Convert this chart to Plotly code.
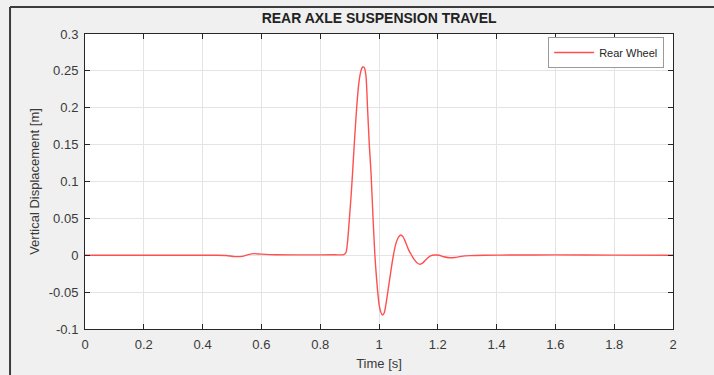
import plotly.graph_objects as go

# Rear wheel vertical displacement over time
time_s = [0.0, 0.30, 0.45, 0.48, 0.51, 0.535, 0.555, 0.575, 0.60, 0.65, 0.75, 0.85,
          0.880, 0.888, 0.893, 0.899, 0.905, 0.910, 0.917, 0.924, 0.931, 0.938, 0.943,
          0.947, 0.951, 0.956, 0.961, 0.967, 0.973, 0.980, 0.986, 0.991, 0.995, 1.000,
          1.006, 1.012, 1.018, 1.023, 1.028, 1.035, 1.042, 1.049, 1.055, 1.060, 1.067,
          1.074, 1.082, 1.090, 1.100, 1.111, 1.120, 1.130, 1.139, 1.150, 1.162, 1.175,
          1.190, 1.205, 1.220, 1.240, 1.258, 1.280, 1.310, 1.36, 1.45, 1.60, 1.80, 2.0]
disp_m = [0.0, 0.0, 0.0, -0.0003, -0.0018, -0.0015, 0.0008, 0.0022, 0.0015, 0.0006, 0.0005, 0.0006,
          0.0008, 0.004, 0.018, 0.048, 0.080, 0.111, 0.158, 0.200, 0.232, 0.249, 0.2545,
          0.2555, 0.2535, 0.242, 0.200, 0.150, 0.111, 0.048, 0.000, -0.028, -0.047, -0.066,
          -0.077, -0.081, -0.078, -0.068, -0.055, -0.036, -0.017, 0.000, 0.012, 0.019, 0.025,
          0.0275, 0.025, 0.018, 0.008, 0.000, -0.006, -0.0105, -0.0123, -0.010, -0.005, -0.001,
          0.0003, 0.0, -0.002, -0.0033, -0.0030, -0.0015, -0.0005, 0.0, 0.0003, 0.0005, 0.0002, 0.0]

x_ticks = [0, 0.2, 0.4, 0.6, 0.8, 1, 1.2, 1.4, 1.6, 1.8, 2]
y_ticks = [-0.1, -0.05, 0, 0.05, 0.1, 0.15, 0.2, 0.25, 0.3]

FONT = "Liberation Sans, Arial, Helvetica, sans-serif"
AX = "#262626"
TXT = "#3a3a3a"

fig = go.Figure()
fig.add_trace(go.Scatter(
    x=time_s, y=disp_m, mode="lines", name="Rear Wheel",
    line=dict(color="#ff5050", width=1.4, shape="spline", smoothing=0.6),
))

axis_common = dict(
    showline=True, linecolor=AX, linewidth=1, mirror="ticks",
    ticks="inside", ticklen=5, tickcolor=AX, tickwidth=1,
    showgrid=True, gridcolor="#e4e4e4", gridwidth=1, zeroline=False,
    automargin=False,
    tickfont=dict(family=FONT, size=13, color=TXT),
)

fig.update_xaxes(
    range=[0, 2], tickvals=x_ticks, ticktext=[f"{v:g}" for v in x_ticks],
    ticklabelstandoff=3,
    title=dict(text="Time [s]", font=dict(family=FONT, size=13, color=TXT), standoff=8),
    **axis_common,
)
fig.update_yaxes(
    range=[-0.1, 0.3], tickvals=y_ticks, ticktext=[f"{v:g}" for v in y_ticks],
    ticklabelstandoff=3,
    title=dict(text="Vertical Displacement [m]", font=dict(family=FONT, size=13, color=TXT), standoff=6),
    **axis_common,
)

fig.update_layout(
    width=714, height=375,
    margin=dict(l=85, r=41, t=34, b=46, autoexpand=False),
    paper_bgcolor="#f0f0f0", plot_bgcolor="#ffffff",
    title=dict(text="<b>REAR AXLE SUSPENSION TRAVEL</b>", x=0.531, xanchor="center",
               y=0.952, yanchor="middle",
               font=dict(family=FONT, size=14, color="#222222")),
    showlegend=True,
    legend=dict(x=0.985, y=0.99, xanchor="right", yanchor="top",
                bgcolor="#ffffff", bordercolor="#9a9a9a", borderwidth=1,
                font=dict(family=FONT, size=11, color="#262626"),
                tracegroupgap=0, itemwidth=40),
    shapes=[
        # outer window frame, left and top edges
        dict(type="line", xref="paper", yref="paper", x0=-0.1275, x1=-0.1275, y0=-0.2, y1=1.0915,
             line=dict(color="#3c3c3c", width=2)),
        dict(type="line", xref="paper", yref="paper", x0=-0.1275, x1=1.08, y0=1.0915, y1=1.0915,
             line=dict(color="#3c3c3c", width=2)),
    ],
)

fig.write_html("out.html")
